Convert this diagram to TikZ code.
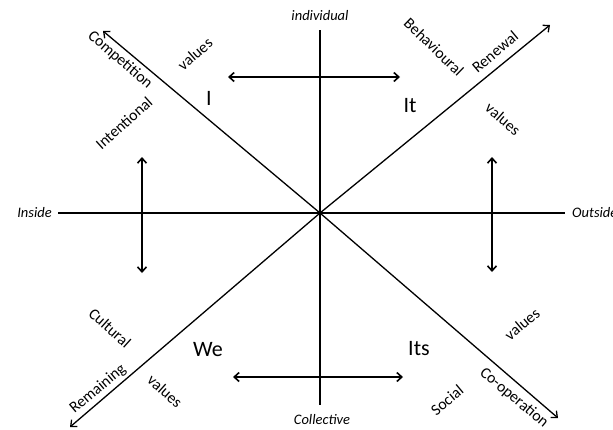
\documentclass[tikz,border=0pt]{standalone}
\usepackage{fontspec}
\setmainfont{Carlito}
\usetikzlibrary{arrows.meta}
\begin{document}
\begin{tikzpicture}[x=1pt,y=-1pt,
  axisline/.style={line width=2.6pt},
  diag/.style={line width=1.3pt,-{Straight Barb[length=5pt,width=9pt]}},
  dbl/.style={line width=1.6pt,{Straight Barb[length=5pt,width=9pt]}-{Straight Barb[length=5pt,width=9pt]}},
  lbl/.style={font=\fontsize{15.8}{18}\selectfont, inner sep=0pt},
  quad/.style={font=\fontsize{22}{26}\selectfont, inner sep=0pt},
  axlbl/.style={font=\fontsize{14.5}{17}\selectfont\itshape, inner sep=0pt}]
\useasboundingbox (0,0) rectangle (613,429);
% axis points
\coordinate (c) at (320,213);
\coordinate (top) at (320,30);
\coordinate (bot) at (320,405);
\coordinate (left) at (58,213);
\coordinate (right) at (565,213);
\coordinate (nw) at (103,31);
\coordinate (ne) at (550,25);
\coordinate (sw) at (70,427);
\coordinate (se) at (558,418);
% small arrows
\coordinate (ta1) at (228,77);
\coordinate (ta2) at (400,77);
\coordinate (ba1) at (233,377);
\coordinate (ba2) at (403,377);
\coordinate (la1) at (142,157);
\coordinate (la2) at (142,273);
\coordinate (ra1) at (492,157);
\coordinate (ra2) at (492,272);
% axes
\draw[axisline] (top) -- (bot);
\draw[axisline] (left) -- (right);
\draw[diag] (c) -- (nw);
\draw[diag] (c) -- (ne);
\draw[diag] (c) -- (sw);
\draw[diag] (c) -- (se);
\draw[dbl] (ta1) -- (ta2);
\draw[dbl] (ba1) -- (ba2);
\draw[dbl] (la1) -- (la2);
\draw[dbl] (ra1) -- (ra2);
% axis labels
\node[axlbl] (indiv) at (320,16) {individual};
\node[axlbl] (coll) at (322,420) {Collective};
\node[axlbl,anchor=east] (inside) at (52,213) {Inside};
\node[axlbl,anchor=west] (outside) at (572,213) {Outside};
% quadrant labels
\node[quad] (qI) at (209,98) {I};
\node[quad] (qIt) at (410,106) {It};
\node[quad] (qWe) at (208,350) {We};
\node[quad] (qIts) at (419,349) {Its};
% rotated labels
\node[lbl,rotate=-41] (comp) at (120,60) {Competition};
\node[lbl,rotate=41] (v1) at (195,54) {values};
\node[lbl,rotate=42] (intent) at (124,123) {Intentional};
\node[lbl,rotate=-44] (behav) at (434,47) {Behavioural};
\node[lbl,rotate=40] (renew) at (495,52) {Renewal};
\node[lbl,rotate=-41] (v2) at (503,119) {values};
\node[lbl,rotate=-42] (cult) at (110,328) {Cultural};
\node[lbl,rotate=40] (remain) at (98,389) {Remaining};
\node[lbl,rotate=-42] (v3) at (165,391) {values};
\node[lbl,rotate=40] (v4) at (522,324) {values};
\node[lbl,rotate=40] (social) at (447,400) {Social};
\node[lbl,rotate=-40] (coop) at (514,398) {Co-operation};
\end{tikzpicture}
\end{document}
